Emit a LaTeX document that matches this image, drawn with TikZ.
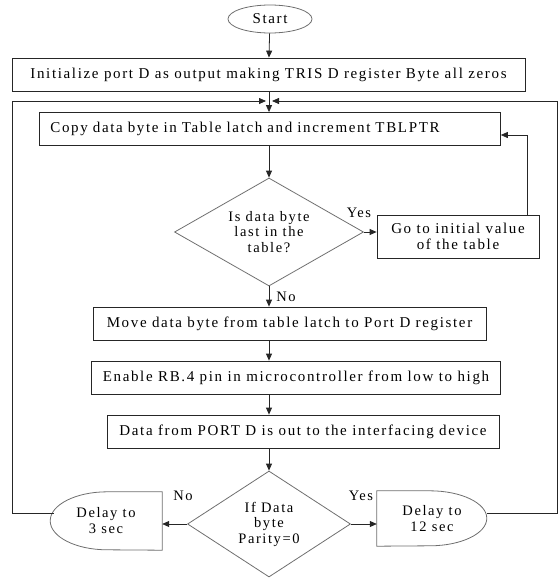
\documentclass[tikz,border=0pt]{standalone}
\usepackage{fontspec}
\setmainfont{Liberation Serif}[LetterSpace=11]
\usetikzlibrary{arrows.meta,shapes.geometric}

\definecolor{edgegray}{RGB}{110,110,110}

\tikzset{
  flow/.style={draw=black!85,line width=0.8pt,-{Triangle[length=7pt,width=6pt]}},
  procbox/.style={draw=black!85,line width=0.8pt,rectangle,minimum height=33pt,
    inner xsep=11pt,inner ysep=0pt},
  decision/.style={draw=edgegray,line width=0.8pt,diamond,inner sep=0pt,aspect=1.75,
    align=center,font=\fontsize{14.5}{15.5}\selectfont},
  terminal/.style={draw=edgegray,line width=0.8pt,ellipse,inner sep=0pt},
  delaybox/.style={inner sep=0pt,align=center,font=\fontsize{14.5}{16}\selectfont},
  lbl/.style={font=\fontsize{14.5}{15}\selectfont,inner sep=1pt}
}

\begin{document}
\begin{tikzpicture}[x=1pt,y=-1pt,font=\fontsize{15}{16}\selectfont]
  \useasboundingbox (0,0) rectangle (557,578);

  % main column
  \node[terminal,minimum width=84pt,minimum height=28pt] (start) at (270,19) {Start};
  \node[procbox,minimum width=513pt] (init) at (268.5,74.5)
    {Initialize port D as output making TRIS D register Byte all zeros};
  \coordinate (merge) at (269,101);
  \node[procbox,anchor=west,text width=439pt,align=left,minimum width=461pt] (copy) at (39,129)
    {Copy data byte in Table latch and increment TBLPTR};
  \node[decision,minimum width=189pt,minimum height=108pt] (islast) at (269,232)
    {Is data byte\\last in the\\table?};
  \node[procbox,align=center,minimum width=162pt,minimum height=43pt] (goinit) at (458,236.5)
    {Go to initial value\\of the table};
  \node[procbox,minimum width=393pt] (move) at (289.5,323.5)
    {Move data byte from table latch to Port D register};
  \node[procbox,minimum width=406pt] (enable) at (296,377.5)
    {Enable RB.4 pin in microcontroller from low to high};
  \node[procbox,minimum width=392pt] (portout) at (303,431.5)
    {Data from PORT D is out to the interfacing device};
  \node[decision,minimum width=163pt,minimum height=106pt] (parity) at (269,524)
    {If Data\\byte\\Parity=0};

  % delay blocks, flat on one side and round on the other
  \node[delaybox,minimum width=112pt,minimum height=58pt] (dlythree) at (106,521)
    {Delay to\\3 sec};
  \draw[edgegray,line width=0.8pt] (dlythree.north east) -- ++(-55,0)
    arc[start angle=270,end angle=90,x radius=57,y radius=29] -- (dlythree.south east) -- cycle;
  \node[delaybox,minimum width=110pt,minimum height=55pt] (dlytwelve) at (432,518.5)
    {Delay to\\12 sec};
  \draw[edgegray,line width=0.8pt] (dlytwelve.north west) -- ++(53,0)
    arc[start angle=-90,end angle=90,x radius=57,y radius=27.5] -- (dlytwelve.south west) -- cycle;

  % connectors
  \draw[flow] (start) -- (init);
  \draw[flow] (init.south -| merge) -- (copy.north -| merge);
  \draw[flow] (copy.south -| islast) -- (islast.north);
  \draw[flow] (islast.east) -- (islast.east -| goinit.west);
  \draw[flow] ([xshift=-12pt]goinit.north east) |- ([yshift=-6pt]copy.east);
  \draw[flow] (islast.south) -- (islast.south |- move.north);
  \draw[flow] (islast.south |- move.south) -- (islast.south |- enable.north);
  \draw[flow] (islast.south |- enable.south) -- (islast.south |- portout.north);
  \draw[flow] (parity.north |- portout.south) -- (parity.north);
  \draw[flow] (parity.west) -- (parity.west -| dlythree.east);
  \draw[flow] (parity.east) -- (parity.east -| dlytwelve.west);
  \draw[flow] ([xshift=4pt,yshift=8pt]dlythree.west) -- (12,513) |- ([xshift=-3pt]merge);
  \draw[flow] ([yshift=5pt]dlytwelve.east) -- (557,513.5) |- ([xshift=3pt]merge);

  % branch labels
  \node[lbl] (yesone) at (359,213) {Yes};
  \node[lbl] (noone) at (286,297) {No};
  \node[lbl] (notwo) at (183,496) {No};
  \node[lbl] (yestwo) at (361,496) {Yes};
\end{tikzpicture}
\end{document}
